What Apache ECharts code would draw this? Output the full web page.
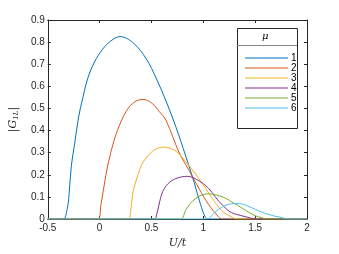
<!DOCTYPE html>
<html><head><meta charset="utf-8">
<script src="https://cdn.jsdelivr.net/npm/echarts@6/dist/echarts.min.js"></script>
<style>html,body{margin:0;padding:0;background:#fff}#c{width:339px;height:254px}</style>
</head><body><div id="c"></div>
<script>
const names = ['1','2','3','4','5','6'];
const colors = ['#0072BD','#D95319','#EDB120','#7E2F8E','#77AC30','#4DBEEE'];
const xTicks = [-0.5,0,0.5,1,1.5,2];
const yTicks = [0,0.1,0.2,0.3,0.4,0.5,0.6,0.7,0.8,0.9];

const mu1X = [-0.5,-0.352,-0.314,-0.295,-0.273,-0.24,-0.203,-0.162,-0.114,-0.05,0.029,0.107,0.197,0.323,0.45,0.545,0.64,0.735,0.83,0.91,0.973,1.02,1.05,2];
const mu1Y = [0,0,0.044,0.11,0.241,0.344,0.461,0.549,0.637,0.71,0.768,0.805,0.825,0.797,0.724,0.637,0.534,0.417,0.285,0.168,0.066,0.007,0,0];
const mu2X = [-0.5,-0.019,0.013,0.06,0.107,0.171,0.26,0.34,0.418,0.5,0.577,0.64,0.767,0.862,0.957,1.05,1.147,1.18,2];
const mu2Y = [0,0,0.066,0.198,0.3,0.4,0.49,0.53,0.541,0.525,0.485,0.446,0.30,0.22,0.139,0.066,0.01,0,0];
const mu3X = [-0.5,0.276,0.30,0.323,0.37,0.418,0.52,0.624,0.74,0.862,0.957,1.084,1.18,1.27,1.32,2];
const mu3Y = [0,0,0.04,0.124,0.2,0.256,0.31,0.325,0.305,0.241,0.183,0.095,0.037,0.01,0,0];
const mu4X = [-0.5,0.53,0.55,0.58,0.608,0.66,0.735,0.846,0.95,1.05,1.115,1.19,1.27,1.37,1.45,1.5,2];
const mu4Y = [0,0,0.02,0.08,0.124,0.16,0.183,0.193,0.175,0.139,0.1,0.06,0.029,0.015,0.005,0,0];
const mu5X = [-0.5,0.78,0.83,0.894,0.97,1.05,1.13,1.21,1.29,1.37,1.44,1.5,1.56,1.62,2];
const mu5Y = [0,0,0.04,0.08,0.105,0.114,0.108,0.095,0.073,0.051,0.03,0.015,0.006,0,0];
const mu6X = [-0.5,1.04,1.1,1.147,1.21,1.27,1.34,1.42,1.5,1.56,1.62,1.69,1.75,1.82,2];
const mu6Y = [0,0,0.025,0.044,0.06,0.069,0.07,0.06,0.044,0.032,0.022,0.013,0.007,0,0];

const allX = [mu1X,mu2X,mu3X,mu4X,mu5X,mu6X];
const allY = [mu1Y,mu2Y,mu3Y,mu4Y,mu5Y,mu6Y];

const FONT = '"Liberation Sans", Arial, sans-serif';
const AX = '#262626';

const series = names.map((n,i)=>({
  name: n, type:'line', symbol:'none', smooth:0.35,
  data: allX[i].map((x,k)=>[x, allY[i][k]]),
  lineStyle:{color:colors[i], width:1}, itemStyle:{color:colors[i]},
  animation:false
}));

const chart = echarts.init(document.getElementById('c'));
const baseX = {
  type:'value', min:-0.5, max:2, interval:0.5,
  axisLine:{show:true, onZero:false, lineStyle:{color:AX, width:1}},
  axisTick:{show:true, inside:true, length:3, lineStyle:{color:AX}},
  splitLine:{show:false}
};
const baseY = {
  type:'value', min:0, max:0.9, interval:0.1,
  axisLine:{show:true, onZero:false, lineStyle:{color:AX, width:1}},
  axisTick:{show:true, inside:true, length:3, lineStyle:{color:AX}},
  splitLine:{show:false}
};
chart.setOption({
  animation:false,
  grid:{left:44, right:32, top:20, bottom:29, containLabel:false},
  xAxis:[
    Object.assign({}, baseX, {position:'bottom',
      axisLabel:{color:AX, fontSize:10, fontFamily:FONT, margin:4, formatter:v=>String(v)},
      name:'U/t', nameLocation:'middle', nameGap:19,
      nameTextStyle:{color:AX, fontSize:11, fontStyle:'italic', fontFamily:'"DejaVu Serif", serif'}}),
    Object.assign({}, baseX, {position:'top', axisLabel:{show:false}})
  ],
  yAxis:[
    Object.assign({}, baseY, {position:'left',
      axisLabel:{color:AX, fontSize:10, fontFamily:FONT, margin:3, formatter:v=>String(Math.round(v*10)/10)},
      name:'{a||G}{s|1L}{a||}', nameLocation:'middle', nameGap:16, nameRotate:90,
      nameTextStyle:{color:AX, rich:{
        a:{fontSize:11, fontStyle:'italic', fontFamily:'"DejaVu Serif", serif', color:AX},
        s:{fontSize:7, fontStyle:'italic', fontFamily:'"DejaVu Serif", serif', color:AX, verticalAlign:'bottom', padding:[6,0,0,0]}
      }}}),
    Object.assign({}, baseY, {position:'right', axisLabel:{show:false}})
  ],
  legend:{
    orient:'vertical', left:240, top:48, itemGap:0, itemWidth:43, itemHeight:13,
    icon:'path://M0,0L43,0L43,1L0,1Z',
    textStyle:{color:'#000', fontSize:10, fontFamily:FONT, padding:[0,0,0,-2]},
    data:names
  },
  graphic:[
    {type:'rect', left:237, top:28, shape:{width:60, height:100},
     style:{fill:'#fff', stroke:'#262626', lineWidth:1}, z:0},
    {type:'line', shape:{x1:237, y1:45.5, x2:297, y2:45.5},
     style:{stroke:'#888', lineWidth:1}, z:1},
    {type:'text', left:262, top:31, style:{text:'μ', fontSize:10, fontStyle:'italic', fontFamily:'"DejaVu Serif", serif', fill:'#000'}, z:2}
  ],
  series: series
});
</script></body></html>
